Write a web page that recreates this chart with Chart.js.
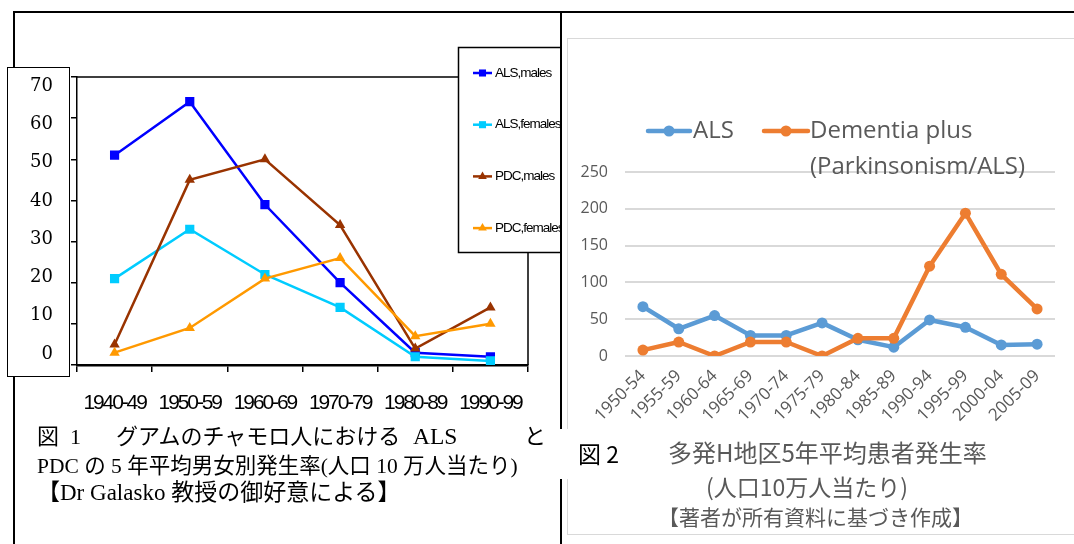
<!DOCTYPE html>
<html>
<head>
<meta charset="utf-8">
<script src="https://cdn.jsdelivr.net/npm/chart.js@4.4.1/dist/chart.umd.min.js"></script>
<style>
  body { margin: 0; background: #fff; width: 1074px; height: 544px; overflow: hidden; position: relative; }
  .abs { position: absolute; }
  #topLine { left: 13px; top: 11px; width: 1061px; height: 2px; background: #000; z-index: 3; }
  #leftLine { left: 13px; top: 11px; width: 2px; height: 533px; background: #000; }
  #divider { left: 560px; top: 11px; width: 2px; height: 533px; background: #000; z-index: 3; }
  #yBox { left: 7px; top: 67px; width: 61px; height: 308px; border: 1.5px solid #000; background: #fff; z-index: 1; }
  #c1 { left: 0; top: 0; z-index: 2; }
  #panel2 { left: 567px; top: 38px; width: 520px; height: 495px; border: 1px solid #d9d9d9; background: #fff; z-index: 3; }
  #c2 { left: 563px; top: 0; z-index: 4; }
  #fig2box { left: 554px; top: 429px; width: 100px; height: 50px; background: #fff; z-index: 5; }
  .cap { position: absolute; white-space: pre; line-height: 1; z-index: 6; }
  .cap span { position: absolute; top: 0; }
  .l { font-family: "Liberation Serif", "Noto Sans CJK JP", serif; color: #000; }
  .r { font-family: "Noto Sans CJK JP", sans-serif; color: #595959; }
</style>
</head>
<body>
<div class="abs" id="topLine"></div>
<div class="abs" id="leftLine"></div>
<div class="abs" id="divider"></div>
<div class="abs" id="yBox"></div>
<canvas class="abs" id="c1" width="561" height="544"></canvas>
<div class="abs" id="panel2"></div>
<canvas class="abs" id="c2" width="511" height="544"></canvas>
<div class="abs" id="fig2box"></div>

<div class="cap l" style="left:0;top:426px;font-size:22px;">
<span style="left:37px;">図</span><span style="left:70px;">1</span><span style="left:116px;">グアムのチャモロ人における</span><span style="left:413px;top:-1px;font-size:23.5px;">ALS</span><span style="left:524px;">と</span></div>
<div class="cap l" style="left:37px;top:456px;font-size:21.5px;">PDC の 5 年平均男女別発生率(人口 10 万人当たり)</div>
<div class="cap l" style="left:37px;top:481px;font-size:23px;">【Dr Galasko 教授の御好意による】</div>

<div class="cap r" style="left:578px;top:442px;font-size:23px;color:#000;">図 2</div>
<div class="cap r" style="left:668px;top:440px;font-size:24px;">多発H地区5年平均患者発生率</div>
<div class="cap r" style="left:706px;top:475px;font-size:23px;">(人口10万人当たり)</div>
<div class="cap r" style="left:658px;top:506px;font-size:21px;">【著者が所有資料に基づき作成】</div>

<script>
// fig 1 - Guam
const decades = ['1940-49', '1950-59', '1960-69', '1970-79', '1980-89', '1990-99'];
const alsMales = [51, 64, 39, 20, 3, 2];
const alsFemales = [21, 33, 22, 14, 2, 1];
const pdcMales = [5, 45, 50, 34, 4, 14];
const pdcFemales = [3, 9, 21, 26, 7, 10];
const leftTicks = [0, 10, 20, 30, 40, 50, 60, 70];

// fig 2 - H district
const periods = ['1950-54', '1955-59', '1960-64', '1965-69', '1970-74', '1975-79',
                 '1980-84', '1985-89', '1990-94', '1995-99', '2000-04', '2005-09'];
const alsRate = [67, 37, 55, 28, 28, 45, 22, 12, 49, 39, 15, 16];
const dementiaRate = [8, 19, 0, 19, 19, 0, 24, 24, 122, 194, 111, 64];
const rightTicks = [0, 50, 100, 150, 200, 250];

// squeezed tick labels (the old Excel look)
const letterSp = { x: '-2.1px' };
const squeeze = {
    id: 'squeeze',
    beforeDraw(chart) {
        Object.values(chart.scales).forEach(s => {
            if (s._squeezed || !letterSp[s.id]) return;
            const orig = s.drawLabels;
            s.drawLabels = function (area) {
                const c = this.ctx;
                c.save();
                c.letterSpacing = letterSp[this.id];
                orig.call(this, area);
                c.restore();
            };
            s._squeezed = true;
        });
    }
};

const plotFrame = {
    id: 'plotFrame',
    beforeDatasetsDraw(chart) {
        const { ctx, chartArea: a } = chart;
        ctx.save();
        ctx.strokeStyle = '#000';
        ctx.lineWidth = 1.5;
        ctx.beginPath();
        ctx.moveTo(a.left, a.top);
        ctx.lineTo(a.right, a.top);
        ctx.lineTo(a.right, a.bottom);
        ctx.stroke();
        ctx.restore();
    }
};

const boxLegend = {
    id: 'boxLegend',
    afterDraw(chart) {
        const ctx = chart.ctx;
        ctx.save();
        ctx.fillStyle = '#fff';
        ctx.fillRect(458, 47, 140, 205);
        ctx.strokeStyle = '#000';
        ctx.lineWidth = 1.5;
        ctx.strokeRect(458.5, 47.5, 140, 205);
        chart.data.datasets.forEach((ds, i) => {
            const y = 73 + i * 51.7;
            ctx.strokeStyle = ds.borderColor;
            ctx.lineWidth = 2.5;
            ctx.beginPath();
            ctx.moveTo(473, y);
            ctx.lineTo(492, y);
            ctx.stroke();
            ctx.fillStyle = ds.borderColor;
            Chart.helpers.drawPoint(ctx, { pointStyle: ds.pointStyle, radius: 5, borderWidth: 0 }, 482.5, y);
            ctx.fillStyle = '#000';
            ctx.font = '13.5px "Liberation Sans"';
            ctx.letterSpacing = '-1px';
            ctx.textBaseline = 'middle';
            ctx.fillText(ds.label, 495, y);
        });
        ctx.restore();
    }
};

new Chart(document.getElementById('c1'), {
    type: 'line',
    data: {
        labels: decades,
        datasets: [
            { label: 'ALS,males', data: alsMales, borderColor: '#0000ff', backgroundColor: '#0000ff', pointStyle: 'rect', pointRadius: 6.5, order: 3 },
            { label: 'ALS,females', data: alsFemales, borderColor: '#00ccff', backgroundColor: '#00ccff', pointStyle: 'rect', pointRadius: 6.5, order: 2 },
            { label: 'PDC,males', data: pdcMales, borderColor: '#993300', backgroundColor: '#993300', pointStyle: 'triangle', pointRadius: 6, order: 1 },
            { label: 'PDC,females', data: pdcFemales, borderColor: '#ff9900', backgroundColor: '#ff9900', pointStyle: 'triangle', pointRadius: 6, order: 0 }
        ]
    },
    options: {
        responsive: false,
        animation: false,
        layout: { padding: { top: 77, right: 33, bottom: 119, left: 0 } },
        elements: {
            line: { borderWidth: 2.5, tension: 0 },
            point: { borderWidth: 0 }
        },
        plugins: { legend: { display: false }, tooltip: { enabled: false } },
        scales: {
            x: {
                offset: true,
                grid: { offset: true, drawOnChartArea: false, color: '#000', tickLength: 7, lineWidth: 1.5 },
                border: { color: '#000', width: 2.5 },
                ticks: { color: '#000', font: { family: '"Liberation Sans"', size: 21 }, padding: 19, maxRotation: 0, autoSkip: false },
                afterFit(s) { s.height = 60; }
            },
            y: {
                min: 0, max: 70,
                afterBuildTicks(s) { s.ticks = leftTicks.map(v => ({ value: v })); },
                ticks: { display: false },
                grid: { drawOnChartArea: false, tickLength: 6, color: '#000', lineWidth: 1.5 },
                border: { color: '#000', width: 1.5 },
                afterFit(s) { s.width = 8; }
            },
            // the numbers sit in their own text box, a bit off the tick marks
            y2: {
                position: 'left', weight: 1,
                min: -2.87, max: 72.35,
                afterBuildTicks(s) { s.ticks = leftTicks.map(v => ({ value: v })); },
                grid: { display: false },
                border: { display: false },
                ticks: { color: '#000', font: { family: '"DejaVu Serif"', size: 18 }, padding: 8 },
                afterFit(s) { s.width = 69; }
            }
        }
    },
    plugins: [squeeze, plotFrame, boxLegend]
});

const topLegend = {
    id: 'topLegend',
    afterDraw(chart) {
        const ctx = chart.ctx;
        const spots = [{ x0: 85, x1: 127, tx: 130 }, { x0: 201, x1: 245, tx: 247 }];
        ctx.save();
        ctx.font = '24px "Open Sans"';
        ctx.textBaseline = 'middle';
        chart.data.datasets.forEach((ds, i) => {
            const p = spots[i];
            const y = 131;
            ctx.strokeStyle = ds.borderColor;
            ctx.lineWidth = 4.5;
            ctx.lineCap = 'round';
            ctx.beginPath();
            ctx.moveTo(p.x0, y);
            ctx.lineTo(p.x1, y);
            ctx.stroke();
            ctx.fillStyle = ds.borderColor;
            Chart.helpers.drawPoint(ctx, { pointStyle: 'circle', radius: 5.5, borderWidth: 0 }, (p.x0 + p.x1) / 2, y);
            ctx.fillStyle = '#595959';
            ds.label.split('\n').forEach((t, k) => ctx.fillText(t, p.tx, y + k * 36));
        });
        ctx.restore();
    }
};

new Chart(document.getElementById('c2'), {
    type: 'line',
    data: {
        labels: periods,
        datasets: [
            { label: 'ALS', data: alsRate, borderColor: '#5b9bd5', backgroundColor: '#5b9bd5', order: 1 },
            { label: 'Dementia plus\n(Parkinsonism/ALS)', data: dementiaRate, borderColor: '#ed7d31', backgroundColor: '#ed7d31', order: 0 }
        ]
    },
    options: {
        responsive: false,
        animation: false,
        layout: { padding: { top: 172, right: 19, bottom: 108, left: 0 } },
        elements: {
            line: { borderWidth: 4.5, tension: 0, borderCapStyle: 'round', borderJoinStyle: 'round' },
            point: { radius: 5.5, borderWidth: 0 }
        },
        plugins: { legend: { display: false }, tooltip: { enabled: false } },
        scales: {
            x: {
                offset: true,
                grid: { display: false },
                border: { display: false },
                ticks: { color: '#595959', font: { family: '"Open Sans"', size: 17 }, minRotation: 45, maxRotation: 45, autoSkip: false, padding: 2 },
                afterFit(s) { s.height = 80; }
            },
            y: {
                min: 0, max: 250,
                afterBuildTicks(s) { s.ticks = rightTicks.map(v => ({ value: v })); },
                grid: { color: '#d9d9d9', lineWidth: 2, drawTicks: false },
                border: { display: false },
                ticks: { color: '#595959', font: { family: '"Open Sans"', size: 16 }, padding: 17 },
                afterFit(s) { s.width = 62; }
            }
        }
    },
    plugins: [topLegend]
});
</script>
</body>
</html>
